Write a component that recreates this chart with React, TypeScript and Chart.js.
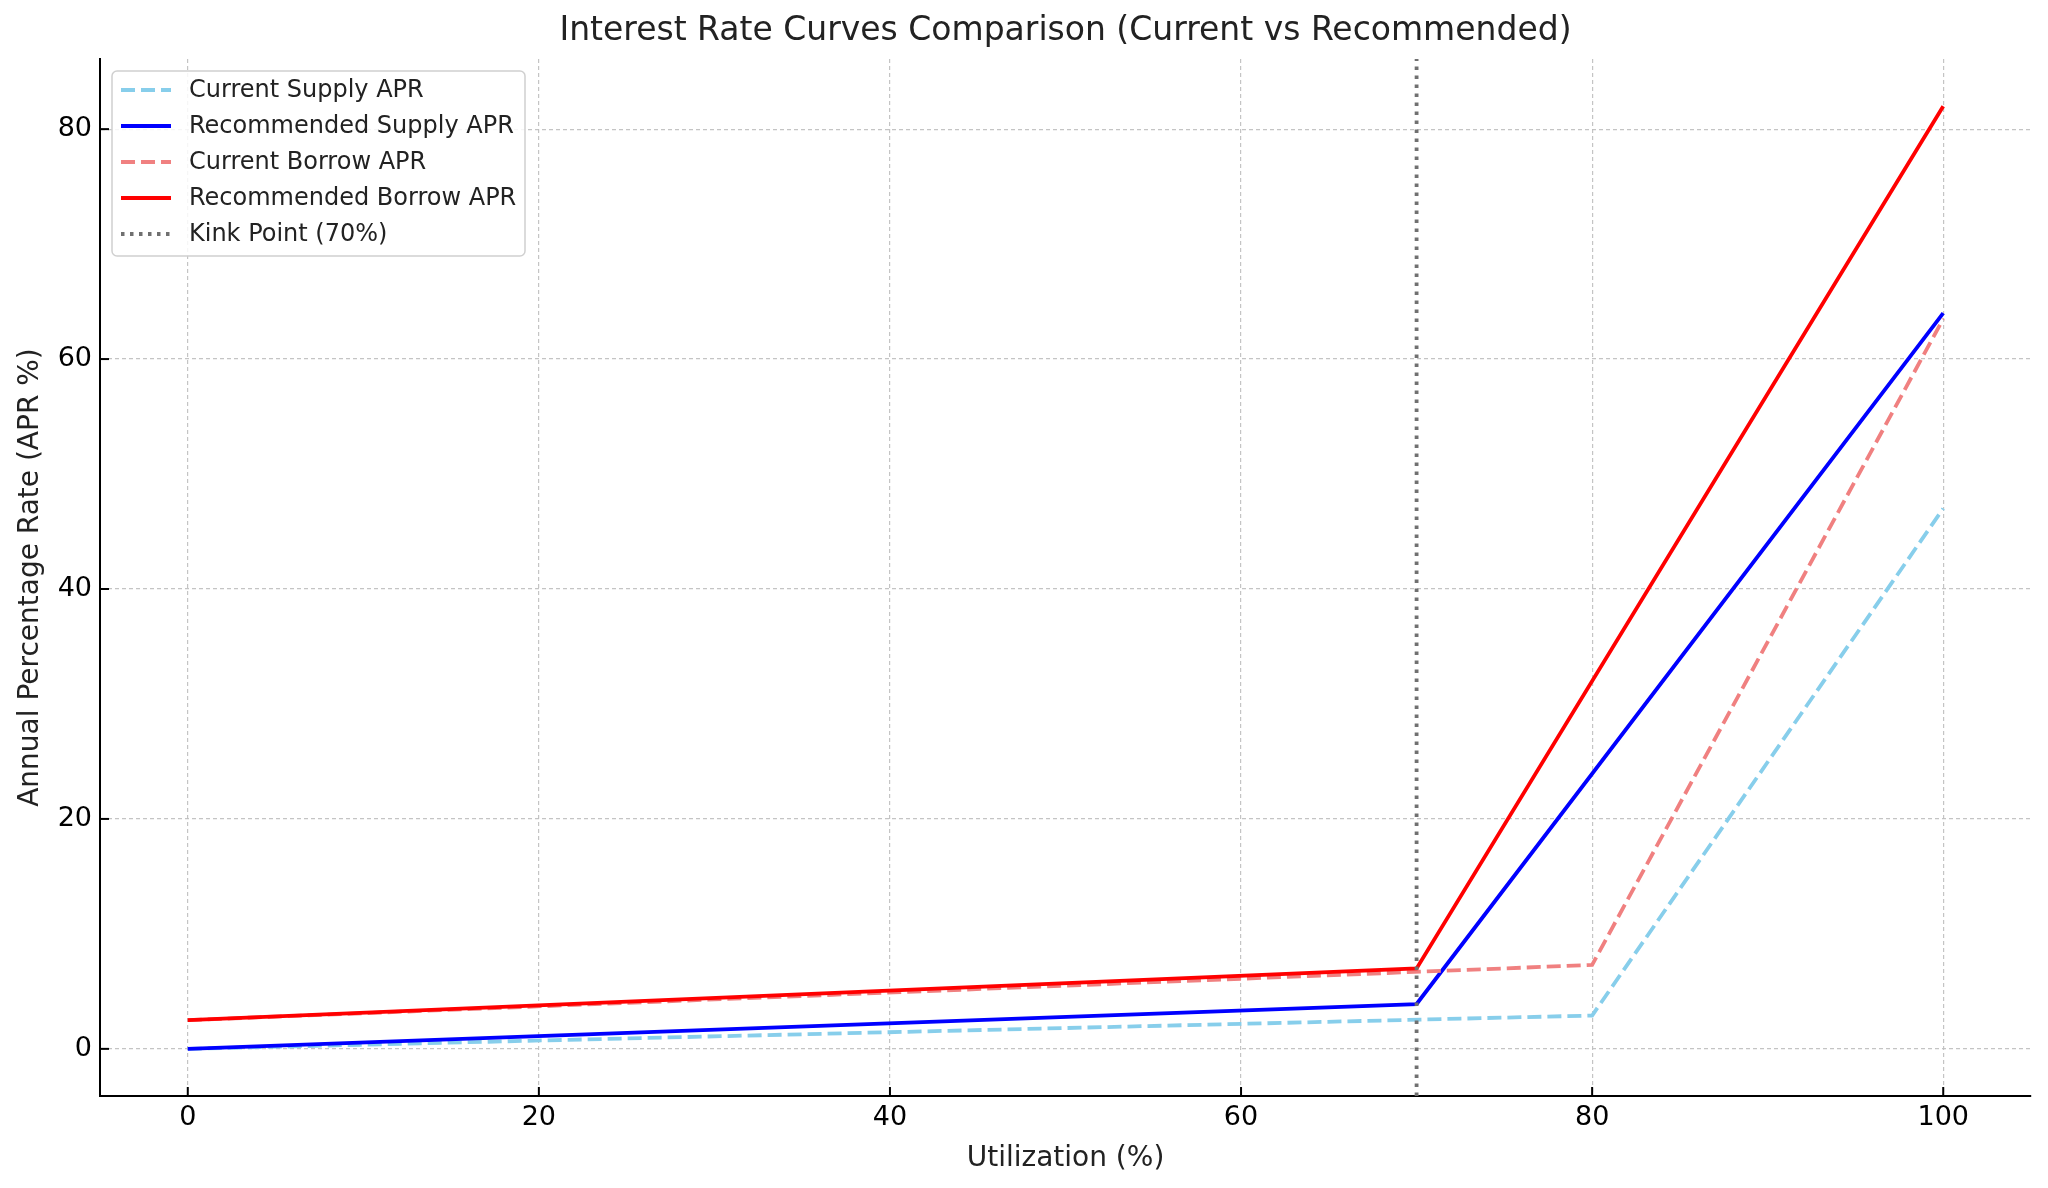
import { useEffect, useRef } from 'react';
import { Chart, registerables } from 'chart.js';

Chart.register(...registerables);

// ============= DATA =============
const utilCurrent = [0, 80, 100];
const currentSupply = [0, 2.9, 47];
const currentBorrow = [2.5, 7.3, 63.5];

const utilRecommended = [0, 70, 100];
const recommendedSupply = [0, 3.9, 64];
const recommendedBorrow = [2.5, 7.0, 82];

const kinkPoint = 70;
const xTicks = [0, 20, 40, 60, 80, 100];
const yTicks = [0, 20, 40, 60, 80];
const xRange = [-5, 105];
const yRange = [-4.1, 86.1];

const seriesLabels = [
    'Current Supply APR',
    'Recommended Supply APR',
    'Current Borrow APR',
    'Recommended Borrow APR',
    'Kink Point (70%)',
];

const FONT = '"DejaVu Sans", Verdana, sans-serif';

const toPoints = (xs: number[], ys: number[]) => xs.map((x, i) => ({ x, y: ys[i] }));

// inward tick marks like the matplotlib style of the original
const tickPlugin = {
    id: 'inwardTicks',
    afterDatasetsDraw(chart: any) {
        const { ctx, chartArea, scales } = chart;
        ctx.save();
        ctx.strokeStyle = '#000000';
        ctx.lineWidth = 2;
        xTicks.forEach(v => {
            const x = scales.x.getPixelForValue(v);
            ctx.beginPath();
            ctx.moveTo(x, chartArea.bottom);
            ctx.lineTo(x, chartArea.bottom - 9);
            ctx.stroke();
        });
        yTicks.forEach(v => {
            const y = scales.y.getPixelForValue(v);
            ctx.beginPath();
            ctx.moveTo(chartArea.left, y);
            ctx.lineTo(chartArea.left + 9, y);
            ctx.stroke();
        });
        ctx.restore();
    },
};

// title, axis labels + legend drawn inside the axes
const textPlugin = {
    id: 'mplTexts',
    afterDraw(chart: any) {
        const { ctx, chartArea } = chart;
        const cx = (chartArea.left + chartArea.right) / 2;
        const cy = (chartArea.top + chartArea.bottom) / 2;
        ctx.save();
        ctx.fillStyle = '#222222';
        ctx.textAlign = 'center';
        ctx.textBaseline = 'middle';
        ctx.font = `33px ${FONT}`;
        ctx.fillText('Interest Rate Curves Comparison (Current vs Recommended)', cx, 31);
        ctx.font = `28px ${FONT}`;
        ctx.fillText('Utilization (%)', cx, 1159);
        ctx.translate(31, cy);
        ctx.rotate(-Math.PI / 2);
        ctx.fillText('Annual Percentage Rate (APR %)', 0, 0);
        ctx.restore();

        // legend
        const datasets = chart.data.datasets;
        const bx = 112, by = 71, bw = 413, bh = 185;
        ctx.save();
        ctx.beginPath();
        ctx.roundRect(bx, by, bw, bh, 5);
        ctx.fillStyle = 'rgba(255,255,255,0.85)';
        ctx.fill();
        ctx.strokeStyle = '#d0d0d0';
        ctx.lineWidth = 1.5;
        ctx.stroke();
        ctx.font = `24px ${FONT}`;
        ctx.textAlign = 'left';
        ctx.textBaseline = 'middle';
        datasets.forEach((ds: any, i: number) => {
            const y = 90 + i * 36;
            ctx.beginPath();
            ctx.setLineDash(ds.borderDash || []);
            ctx.strokeStyle = ds.borderColor;
            ctx.lineWidth = ds.borderWidth;
            ctx.moveTo(121, y);
            ctx.lineTo(171, y);
            ctx.stroke();
            ctx.setLineDash([]);
            ctx.fillStyle = '#222222';
            ctx.fillText(ds.label, 189, y + 1);
        });
        ctx.restore();
    },
};

const InterestRateChart = () => {
    const chartRef = useRef<HTMLCanvasElement>(null);
    const chartInstance = useRef<Chart | null>(null);

    useEffect(() => {
        if (!chartRef.current) return;
        if (chartInstance.current) chartInstance.current.destroy();
        const ctx = chartRef.current.getContext('2d');
        if (!ctx) return;

        const gridStyle = {
            color: 'rgba(190,190,190,0.9)',
            lineWidth: 1.2,
            drawTicks: false,
        };
        const borderStyle = { display: true, color: '#000000', width: 2, dash: [4, 3] };

        chartInstance.current = new Chart(ctx, {
            type: 'line',
            data: {
                datasets: [
                    {
                        label: seriesLabels[0],
                        data: toPoints(utilCurrent, currentSupply),
                        borderColor: '#87CEEB',
                        borderWidth: 3.8,
                        borderDash: [14, 6],
                        order: 5,
                    },
                    {
                        label: seriesLabels[1],
                        data: toPoints(utilRecommended, recommendedSupply),
                        borderColor: '#0000FF',
                        borderWidth: 3.8,
                        order: 4,
                    },
                    {
                        label: seriesLabels[2],
                        data: toPoints(utilCurrent, currentBorrow),
                        borderColor: '#F08080',
                        borderWidth: 3.8,
                        borderDash: [14, 6],
                        order: 3,
                    },
                    {
                        label: seriesLabels[3],
                        data: toPoints(utilRecommended, recommendedBorrow),
                        borderColor: '#FF0000',
                        borderWidth: 3.8,
                        order: 2,
                    },
                    {
                        label: seriesLabels[4],
                        data: [
                            { x: kinkPoint, y: yRange[0] },
                            { x: kinkPoint, y: yRange[1] },
                        ],
                        borderColor: '#707070',
                        borderWidth: 3.8,
                        borderDash: [3.5, 5.5],
                        order: 1,
                    },
                ],
            },
            options: {
                animation: false,
                responsive: true,
                maintainAspectRatio: false,
                devicePixelRatio: 1,
                layout: { padding: { left: 0, top: 59, right: 17, bottom: 0 } },
                elements: {
                    point: { radius: 0, hoverRadius: 0 },
                    line: { tension: 0, fill: false },
                },
                plugins: {
                    legend: { display: false },
                    title: { display: false },
                    tooltip: { enabled: false },
                },
                scales: {
                    x: {
                        type: 'linear',
                        min: xRange[0],
                        max: xRange[1],
                        afterBuildTicks: (scale: any) => {
                            scale.ticks = xTicks.map(v => ({ value: v }));
                        },
                        afterFit: (scale: any) => {
                            scale.height = 92;
                        },
                        grid: gridStyle,
                        border: borderStyle,
                        ticks: {
                            color: '#000000',
                            padding: 6,
                            maxRotation: 0,
                            font: { family: FONT, size: 27 },
                        },
                    },
                    y: {
                        type: 'linear',
                        min: yRange[0],
                        max: yRange[1],
                        afterBuildTicks: (scale: any) => {
                            scale.ticks = yTicks.map(v => ({ value: v }));
                        },
                        afterFit: (scale: any) => {
                            scale.width = 100;
                        },
                        grid: gridStyle,
                        border: borderStyle,
                        ticks: {
                            color: '#000000',
                            padding: 8,
                            font: { family: FONT, size: 27 },
                        },
                    },
                },
            },
            plugins: [tickPlugin, textPlugin],
        });

        return () => {
            if (chartInstance.current) {
                chartInstance.current.destroy();
                chartInstance.current = null;
            }
        };
    }, []);

    return (
        <div style={{ position: 'fixed', left: 0, top: 0, width: '2048px', height: '1188px', background: '#ffffff' }}>
            <canvas ref={chartRef}></canvas>
        </div>
    );
};

export default function App() {
    return <InterestRateChart />;
}
